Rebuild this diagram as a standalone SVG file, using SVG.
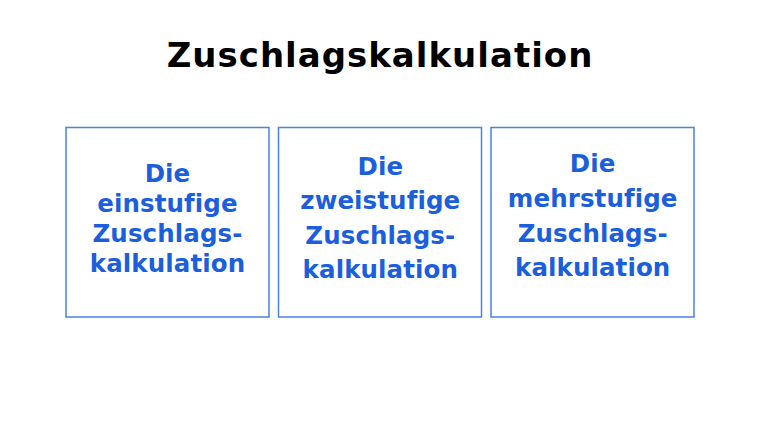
<svg xmlns="http://www.w3.org/2000/svg" width="761" height="427" viewBox="0 0 761 427">
<style>
.box{fill:#ffffff;stroke:#4a82e4;stroke-width:1.5}
.lbl{font-family:"DejaVu Sans","Verdana",sans-serif;font-weight:bold;font-size:24.5px;fill:#1b5fdc;text-anchor:middle;letter-spacing:0.1px}
.title{font-family:"DejaVu Sans","Verdana",sans-serif;font-weight:bold;font-size:34px;fill:#000000;text-anchor:middle;letter-spacing:1px}
</style>
<rect width="761" height="427" fill="#ffffff"/>
<g id="title"><text class="title" x="380" y="67">Zuschlagskalkulation</text></g>
<g id="node1">
<rect class="box" x="66" y="127.5" width="203" height="189.5"/>
<text class="lbl" x="167.5" y="182">Die</text>
<text class="lbl" x="167.5" y="212">einstufige</text>
<text class="lbl" x="167.5" y="242.2">Zuschlags-</text>
<text class="lbl" x="167.5" y="272.4">kalkulation</text>
</g>
<g id="node2">
<rect class="box" x="278.5" y="127.5" width="203" height="189.5"/>
<text class="lbl" x="380.3" y="175">Die</text>
<text class="lbl" x="380.3" y="209.4">zweistufige</text>
<text class="lbl" x="380.3" y="243.9">Zuschlags-</text>
<text class="lbl" x="380.3" y="278.3">kalkulation</text>
</g>
<g id="node3">
<rect class="box" x="491" y="127.5" width="203" height="189.5"/>
<text class="lbl" x="592.7" y="172">Die</text>
<text class="lbl" x="592.7" y="206.8">mehrstufige</text>
<text class="lbl" x="592.7" y="241.6">Zuschlags-</text>
<text class="lbl" x="592.7" y="276.4">kalkulation</text>
</g>
<g id="connectors"></g>
</svg>
